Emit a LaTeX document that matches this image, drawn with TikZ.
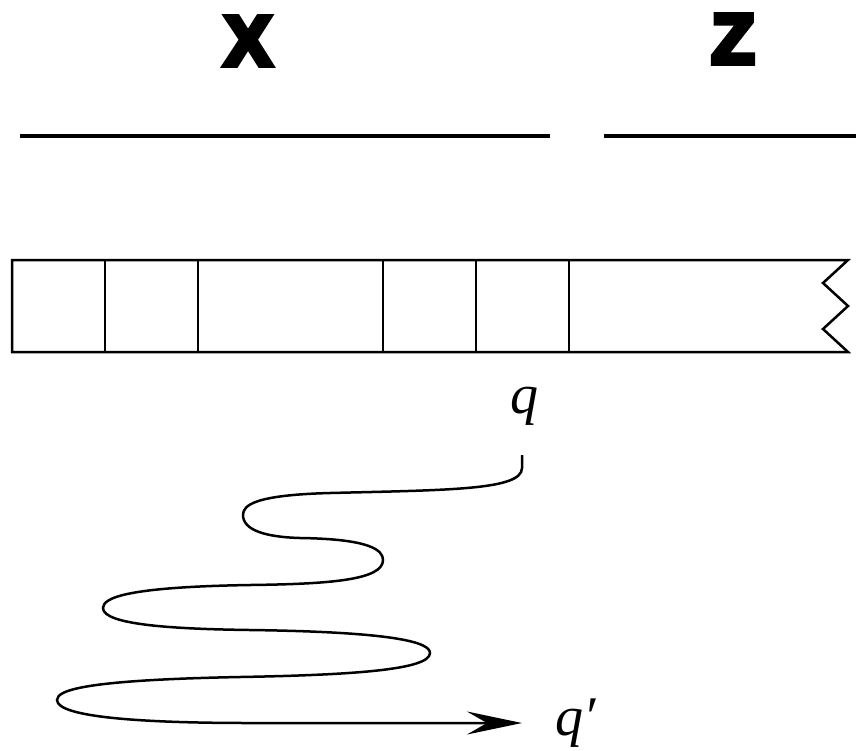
\documentclass[tikz,border=0pt]{standalone}
\usepackage{fontspec}
\setmainfont{Liberation Serif}
\newfontfamily\heavyfont[BoldFeatures={FakeBold=8}]{Liberation Sans}
\usetikzlibrary{arrows.meta}
\begin{document}
\begin{tikzpicture}[x=1pt,y=-1pt,
  headline/.style={line width=4pt},
  tapeline/.style={line width=2.5pt, line join=miter},
  wave/.style={line width=2.5pt},
  bigletter/.style={font=\heavyfont\bfseries\fontsize{70}{70}\selectfont, inner sep=0pt},
  statelabel/.style={font=\itshape\fontsize{56}{56}\selectfont, inner sep=0pt}]
\useasboundingbox (0,0) rectangle (856,750);
% headings
\node[bigletter, anchor=base] (X) at (248,65) {X};
\node[bigletter, anchor=base] (Z) at (733,63) {Z};
\coordinate (x1) at (20,136); \coordinate (x2) at (550,136);
\coordinate (z1) at (604,136); \coordinate (z2) at (856,136);
\draw[headline] (x1) -- (x2);
\draw[headline] (z1) -- (z2);
% tape
\draw[tapeline] (848,260) -- (12,260) -- (12,352) -- (848,352) -- (823,329) -- (848,306) -- (823,283) -- cycle;
\foreach \xx in {105,198,383,476,569}
  \draw[tapeline] (\xx,260) -- (\xx,352);
% states
\node[statelabel, anchor=base] (q) at (524,413) {q};
\node[statelabel, anchor=base west] (qp) at (555,735) {q′};
\coordinate (start) at (522,455);
\coordinate (end) at (522,723);
\draw[wave, -{Stealth[length=55pt,width=23pt,inset=20pt]}] (start) -- (522,468)
  .. controls (522,490) and (450,490) .. (330,493)
  .. controls (255,495) and (243,505) .. (243,515)
  .. controls (243,530) and (265,537) .. (300,538)
  .. controls (370,539) and (383,550) .. (383,560)
  .. controls (383,580) and (330,584) .. (250,585)
  .. controls (125,587) and (103,598) .. (103,608)
  .. controls (103,625) and (175,629) .. (250,630)
  .. controls (400,632) and (430,643) .. (430,653)
  .. controls (430,670) and (350,675) .. (240,677)
  .. controls (85,680) and (57,690) .. (57,700)
  .. controls (57,718) and (150,723) .. (250,723)
  -- (end);
\end{tikzpicture}
\end{document}
